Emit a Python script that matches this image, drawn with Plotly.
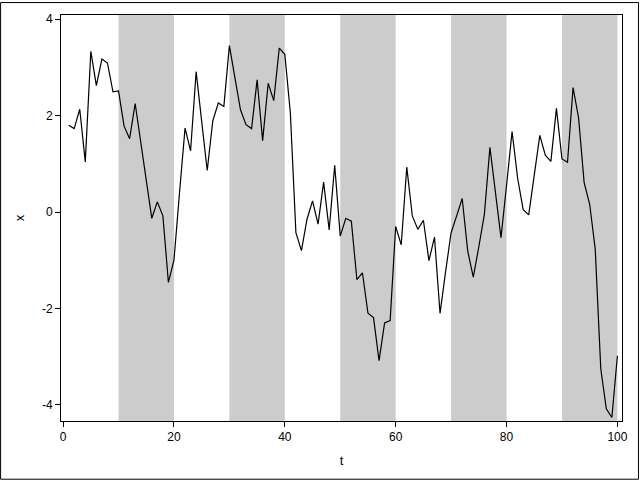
import plotly.graph_objects as go

t = list(range(1, 101))
x = [1.80, 1.73, 2.13, 1.04, 3.33, 2.62, 3.17, 3.09, 2.49, 2.51,
     1.78, 1.52, 2.25, 1.45, 0.66, -0.13, 0.21, -0.08, -1.46, -1.00,
     0.40, 1.74, 1.27, 2.91, 1.88, 0.86, 1.89, 2.26, 2.19, 3.45,
     2.78, 2.12, 1.81, 1.73, 2.74, 1.48, 2.67, 2.31, 3.40, 3.27,
     2.05, -0.43, -0.80, -0.15, 0.23, -0.25, 0.62, -0.37, 0.97, -0.50,
     -0.13, -0.19, -1.40, -1.26, -2.10, -2.19, -3.08, -2.30, -2.25, -0.30,
     -0.68, 0.93, -0.08, -0.36, -0.17, -1.01, -0.52, -2.10, -1.24, -0.43,
     -0.08, 0.28, -0.81, -1.35, -0.72, -0.05, 1.34, 0.40, -0.53, 0.55,
     1.67, 0.70, 0.05, -0.06, 0.76, 1.59, 1.18, 1.05, 2.15, 1.10,
     1.03, 2.58, 1.95, 0.61, 0.16, -0.77, -3.25, -4.08, -4.26, -2.98]

band_starts = [10, 30, 50, 70, 90]
band_ends = [20, 40, 60, 80, 100]

xtick_vals = [0, 20, 40, 60, 80, 100]
ytick_vals = [-4, -2, 0, 2, 4]
ytick_text = ["-4", "-2", "0", "2", "4"]

FONT = "Liberation Sans Narrow, Liberation Sans, Arial, sans-serif"

fig = go.Figure()
fig.add_trace(go.Scatter(x=t, y=x, mode="lines",
                         line=dict(color="black", width=1.2),
                         showlegend=False))

shapes = []
for a, b in zip(band_starts, band_ends):
    shapes.append(dict(type="rect", xref="x", yref="paper", x0=a, x1=b,
                       y0=0, y1=1, fillcolor="#cccccc",
                       line=dict(width=0), layer="below"))

W, H = 640, 480
ml, mr, mt, mb = 61, 17, 13, 59
pw, ph = W - ml - mr, H - mt - mb
shapes.append(dict(type="rect", xref="paper", yref="paper",
                   x0=-(ml - 0.5) / pw, x1=1 + (mr - 0.5) / pw,
                   y0=-(mb - 0.5) / ph, y1=1 + (mt - 0.5) / ph,
                   line=dict(color="black", width=1), fillcolor="rgba(0,0,0,0)",
                   layer="above"))

fig.update_layout(
    width=W, height=H,
    margin=dict(l=ml, r=mr, t=mt, b=mb, pad=0),
    paper_bgcolor="white", plot_bgcolor="white",
    font=dict(family=FONT, size=12, color="black"),
    shapes=shapes,
    xaxis=dict(range=[-0.38, 100.83], tickvals=xtick_vals,
               showgrid=False, zeroline=False,
               showline=True, linecolor="black", linewidth=1, mirror=True,
               ticks="outside", ticklen=5, tickcolor="black",
               title=dict(text="t", standoff=12, font=dict(size=13))),
    yaxis=dict(range=[-4.333, 4.085], tickvals=ytick_vals, ticktext=ytick_text,
               showgrid=False, zeroline=False,
               showline=True, linecolor="black", linewidth=1, mirror=True,
               ticks="outside", ticklen=5, tickcolor="black",
               title=dict(text="x", standoff=14, font=dict(size=13))),
)

fig.write_html(
    "out.html",
    config={"displayModeBar": False},
    post_script="document.body.style.margin='0';document.body.style.overflow='hidden';",
)
